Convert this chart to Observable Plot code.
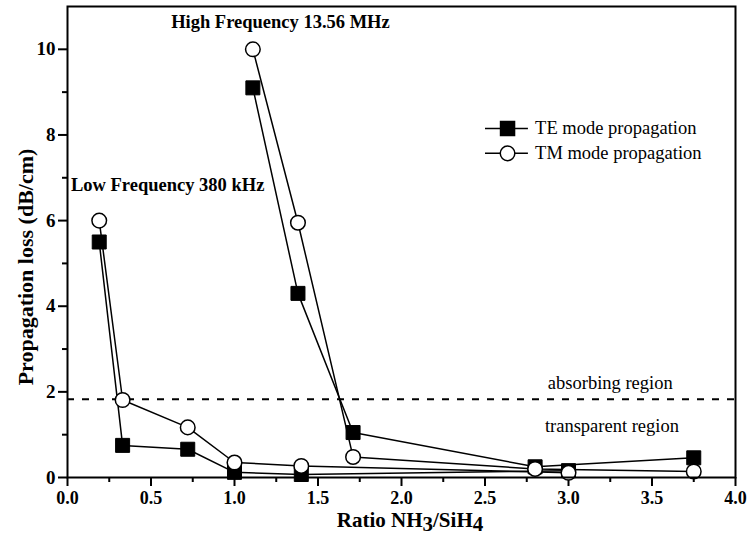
<!DOCTYPE html>
<html>
<head>
<meta charset="utf-8">
<script src="https://cdn.jsdelivr.net/npm/d3@7"></script>
<script src="https://cdn.jsdelivr.net/npm/@observablehq/plot@0.6"></script>
<style>
  html, body { margin: 0; padding: 0; background: #fff; }
  #chart { width: 748px; height: 537px; }
  svg { font-family: "Liberation Serif", "Times New Roman", serif; }
</style>
</head>
<body>
<div id="chart"></div>
<script>
// Low frequency (380 kHz) series
const lowX  = [0.19, 0.33, 0.72, 1.0, 1.4, 3.0];
const lowTE = [5.5, 0.75, 0.66, 0.12, 0.07, 0.16];
const lowTM = [6.0, 1.81, 1.17, 0.35, 0.27, 0.11];
// High frequency (13.56 MHz) series
const highX  = [1.11, 1.38, 1.71, 2.8, 3.75];
const highTE = [9.1, 4.3, 1.05, 0.25, 0.46];
const highTM = [10.0, 5.95, 0.48, 0.2, 0.14];

const xTicks = [0, 0.5, 1.0, 1.5, 2.0, 2.5, 3.0, 3.5, 4.0];
const xMinor = [0.25, 0.75, 1.25, 1.75, 2.25, 2.75, 3.25, 3.75];
const yTicks = [0, 2, 4, 6, 8, 10];
const yMinor = [1, 3, 5, 7, 9];
const thresholdLine = [1.83];

const modes = ["TE mode propagation", "TM mode propagation"];
const freqLabels = ["High Frequency 13.56 MHz", "Low Frequency 380 kHz"];
const regionLabels = ["absorbing region", "transparent region"];

const rows = [];
lowX.forEach((x, i) => {
  rows.push({x, y: lowTE[i], mode: "TE", series: "low-TE"});
  rows.push({x, y: lowTM[i], mode: "TM", series: "low-TM"});
});
highX.forEach((x, i) => {
  rows.push({x, y: highTE[i], mode: "TE", series: "high-TE"});
  rows.push({x, y: highTM[i], mode: "TM", series: "high-TM"});
});
const te = rows.filter(d => d.mode === "TE");
const tm = rows.filter(d => d.mode === "TM");

const legend = modes.map((label, i) => ({label, mode: i === 0 ? "TE" : "TM", y: 8.15 - i * 0.58}));

const FONT = "Liberation Serif";

const chart = Plot.plot({
  width: 748,
  height: 537,
  marginTop: 6,
  marginRight: 13,
  marginBottom: 60,
  marginLeft: 67,
  style: {fontFamily: FONT, background: "white", color: "black"},
  x: {domain: [0, 4]},
  y: {domain: [0, 11]},
  marks: [
    Plot.axisX(xTicks, {tickSize: 9, tickPadding: 5, strokeWidth: 2, tickFormat: d3.format(".1f"), fontSize: 18, fontWeight: "bold", label: null}),
    Plot.axisX(xMinor, {tickSize: 5, strokeWidth: 2, text: null, label: null}),
    Plot.axisY(yTicks, {tickSize: 9, tickPadding: 3, strokeWidth: 2, fontSize: 19, fontWeight: "bold", label: null}),
    Plot.axisY(yMinor, {tickSize: 5, strokeWidth: 2, text: null, label: null}),
    Plot.ruleY(thresholdLine, {stroke: "black", strokeWidth: 2, strokeDasharray: "7,8"}),
    Plot.line(te, {x: "x", y: "y", z: "series", stroke: "black", strokeWidth: 1.5}),
    Plot.line(tm, {x: "x", y: "y", z: "series", stroke: "black", strokeWidth: 1.5}),
    Plot.dot(te, {x: "x", y: "y", symbol: "square", r: 7.9, fill: "black", stroke: "black", strokeWidth: 1}),
    Plot.dot(tm, {x: "x", y: "y", symbol: "circle", r: 7.3, fill: "white", stroke: "black", strokeWidth: 1.5}),
    // annotations
    Plot.text([freqLabels[0]], {x: 1.275, y: 10.63, text: d => d, fontWeight: "bold", fontSize: 18.5, fill: "black"}),
    Plot.text([freqLabels[1]], {x: 0.6, y: 6.82, text: d => d, fontWeight: "bold", fontSize: 18.5, fill: "black"}),
    Plot.text([regionLabels[0]], {x: 3.25, y: 2.2, text: d => d, fontSize: 18.5, fill: "black"}),
    Plot.text([regionLabels[1]], {x: 3.26, y: 1.21, text: d => d, fontSize: 18.5, fill: "black"}),
    // legend
    Plot.ruleY(legend, {y: "y", x1: 2.503, x2: 2.76, stroke: "black", strokeWidth: 1.5}),
    Plot.dot(legend.filter(d => d.mode === "TE"), {x: 2.635, y: "y", symbol: "square", r: 7.9, fill: "black", stroke: "black"}),
    Plot.dot(legend.filter(d => d.mode === "TM"), {x: 2.635, y: "y", symbol: "circle", r: 7.3, fill: "white", stroke: "black", strokeWidth: 1.5}),
    Plot.text(legend, {x: 2.80, y: "y", text: "label", textAnchor: "start", fontSize: 18.5, fill: "black"}),
    Plot.frame({stroke: "black", strokeWidth: 2})
  ]
});

document.getElementById("chart").appendChild(chart);

// axis titles with subscripts
const svg = d3.select(chart);
const xl = svg.append("text")
  .attr("x", 410).attr("y", 527)
  .attr("text-anchor", "middle")
  .attr("font-family", FONT).attr("font-weight", "bold").attr("font-size", 21)
  .attr("fill", "black");
xl.append("tspan").text("Ratio NH");
xl.append("tspan").attr("dy", 4).text("3");
xl.append("tspan").attr("dy", -4).text("/SiH");
xl.append("tspan").attr("dy", 4).text("4");

svg.append("text")
  .attr("transform", "translate(33,267) rotate(-90)")
  .attr("text-anchor", "middle")
  .attr("font-family", FONT).attr("font-weight", "bold").attr("font-size", 22)
  .attr("fill", "black")
  .text("Propagation loss (dB/cm)");
</script>
</body>
</html>
